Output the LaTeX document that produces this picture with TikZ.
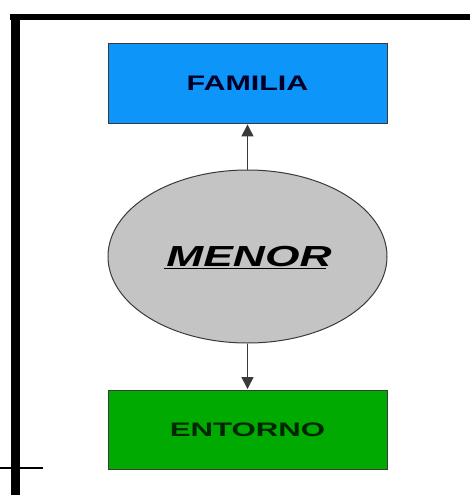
\documentclass[tikz,border=0pt]{standalone}
\usepackage{fontspec}
\setmainfont{Liberation Sans}
\usetikzlibrary{arrows.meta,shapes.geometric}
\definecolor{famblue}{HTML}{0D95FA}
\definecolor{entgreen}{HTML}{00AA00}
\definecolor{mengray}{HTML}{C4C4C4}
\definecolor{edgegray}{HTML}{3A3A3A}
\tikzset{
  boxnode/.style={draw=edgegray, line width=0.9pt, rectangle, minimum width=279pt, minimum height=80pt, inner sep=0pt},
  ovalnode/.style={draw=edgegray, line width=1pt, ellipse, fill=mengray, minimum width=279pt, minimum height=173pt, inner sep=0pt},
  arr/.style={draw=edgegray, line width=1.3pt, -{Triangle[width=12pt,length=12pt]}, shorten >=0.5pt},
  frame/.style={fill=black}
}
\begin{document}
\begin{tikzpicture}[x=1pt,y=-1pt]
\useasboundingbox (0,0) rectangle (470,495);
% frame
\fill[frame] (10,14) rectangle (470,20.5);
\fill[frame] (11,14) rectangle (20,495);
\draw[line width=1.8pt] (0,468) -- (43,468);
% nodes
\node[boxnode, fill=famblue, text=black!85!blue] (fam) at (247.5,83.5)
  {\fontsize{21}{21}\selectfont\bfseries\scalebox{1.45}[1]{FAMILIA}};
\node[boxnode, fill=entgreen, minimum height=79pt, text=black!85!green] (ent) at (247.5,429.5)
  {\fontsize{19.5}{19.5}\selectfont\bfseries\scalebox{1.6}[1]{ENTORNO}};
\node[ovalnode] (men) at (247.5,256.5) {};
\node[inner sep=0pt, anchor=base] (mtxt) at (249,266)
  {\fontsize{29}{29}\selectfont\bfseries\itshape\scalebox{1.53}[1]{MENOR}};
\draw[line width=1.4pt] ([xshift=-2pt,yshift=-2.5pt]mtxt.base west) -- ([xshift=-6pt,yshift=-2.5pt]mtxt.base east);
% connectors
\draw[arr] (men.north) -- (fam.south);
\draw[arr] (men.south) -- (ent.north);
\end{tikzpicture}
\end{document}
